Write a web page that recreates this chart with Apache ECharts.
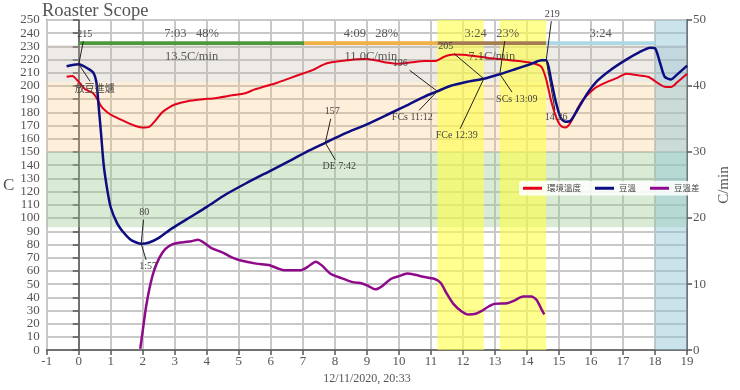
<!DOCTYPE html>
<html><head><meta charset="utf-8">
<script src="https://cdn.jsdelivr.net/npm/echarts@6/dist/echarts.min.js"></script>
<style>html,body{margin:0;padding:0;background:#fff}#c{width:740px;height:390px}</style>
</head><body><div id="c"></div>
<script>
// ---------- DATA ----------
const seriesNames = ['環境溫度', '豆溫', '豆溫差'];
const etData = [[-0.38,207],[-0.2,207.5],[0,203],[0.2,197.5],[0.45,194.5],[0.6,189],[0.72,184],[0.9,180],[1.1,177],[1.5,172.5],[1.8,169.5],[2.0,168.5],[2.2,169],[2.4,174],[2.6,180],[2.8,183.5],[3.0,186],[3.4,188.5],[3.8,189.8],[4.3,191],[4.8,193],[5.2,194.5],[5.5,197.5],[5.8,199.6],[6.2,202.5],[6.6,206],[7.0,209.5],[7.3,212],[7.5,214.5],[7.7,216.8],[8.0,218.3],[8.4,219.5],[8.9,220.4],[9.3,219.4],[9.6,217.8],[10.0,216.8],[10.4,218],[10.8,219],[11.15,219],[11.4,222],[11.7,223.8],[12.0,223.7],[12.4,222.5],[12.8,221.3],[13.2,220.2],[13.6,219.2],[13.9,218.4],[14.2,217.3],[14.45,214.5],[14.6,205],[14.75,189],[14.9,177],[15.05,170],[15.2,168.6],[15.35,172],[15.6,184],[15.8,191],[16.1,198],[16.4,202],[16.8,206],[17.1,209.3],[17.5,208],[17.8,206.8],[18.1,202],[18.3,199.4],[18.5,199.2],[18.7,203],[19,209.3]];
const btData = [[-0.38,215],[-0.2,216],[0,216.5],[0.3,213],[0.46,210],[0.55,203],[0.62,185],[0.7,163],[0.78,140],[0.9,120],[1.0,108],[1.2,96],[1.4,89],[1.6,84],[1.8,81.5],[1.95,80.5],[2.2,81.5],[2.5,85],[2.9,92],[3.5,101],[4,108.5],[4.6,118],[5.2,126],[6,136],[6.6,143.5],[7.1,150],[7.7,157],[8.3,164],[9,171],[9.7,179],[10.3,186],[10.8,192],[11.2,196],[11.6,200],[12.1,203],[12.65,205.5],[13.15,209],[13.6,212.5],[14.1,216.5],[14.45,219.5],[14.6,219.5],[14.75,205],[14.9,188],[15.05,176],[15.2,173],[15.35,173.5],[15.6,183],[15.9,195],[16.2,204],[16.6,212],[17.1,220],[17.5,225.5],[17.85,229],[18.0,228.5],[18.15,218],[18.3,207],[18.5,205],[18.7,209],[19,215.5]];
const rorData = [[1.92,0.2],[2.0,3],[2.1,6.5],[2.22,9.6],[2.35,12],[2.52,14],[2.7,15.3],[2.92,16],[3.2,16.3],[3.52,16.5],[3.73,16.7],[3.9,16.3],[4.13,15.5],[4.53,14.7],[4.8,14],[5.03,13.6],[5.54,13.1],[5.94,12.9],[6.2,12.4],[6.4,12.1],[6.94,12.1],[7.15,12.6],[7.4,13.4],[7.6,12.8],[7.85,11.6],[8.2,10.9],[8.55,10.3],[8.85,10.1],[9.05,9.7],[9.26,9.2],[9.45,9.6],[9.76,10.8],[10.0,11.2],[10.26,11.6],[10.5,11.4],[10.76,11.1],[11.1,10.8],[11.3,10.2],[11.5,8.5],[11.7,7.0],[11.95,5.9],[12.17,5.4],[12.4,5.5],[12.57,5.9],[12.8,6.6],[12.98,7.0],[13.38,7.1],[13.6,7.5],[13.88,8.1],[14.13,8.1],[14.3,7.6],[14.45,6.2],[14.54,5.4]];

const eventTimes  = [0, 1.95, 7.7, 11.2, 12.65, 13.15, 14.6];
const eventTemps  = [216.5, 80.5, 157, 196, 205.5, 209, 219.5];
const eventValueLabels = ['215', '80', '157', '196', '205', '', '219'];
const eventNameLabels  = ['放豆進爐', '1:57', 'DE 7:42', 'FCs 11:12', 'FCe 12:39', 'SCs 13:09', '14:36'];

const phaseStarts = [0, 7.05, 11.2, 14.6];
const phaseEnds   = [7.05, 11.2, 14.6, 18];
const phaseTimeLabels = ['7:03   48%', '4:09   28%', '3:24   23%', '3:24'];
const phaseRateLabels = ['13.5C/min', '11.0C/min', '7.1C/min', ''];

const tempBands = [[93, 150], [150, 203], [203, 231]];
const crackWindows = [[11.2, 12.65], [13.15, 14.6]];
const coolWindow = [18, 19];

const xRange = [-1, 19];
const yRange = [0, 250];
const y2Range = [0, 50];
const dateLabel = '12/11/2020, 20:33';

// ---------- STYLE / LAYOUT ----------
const serif = "'Liberation Serif', 'DejaVu Serif', serif";
const cjk = "'Noto Sans CJK TC', 'Noto Sans CJK SC', sans-serif";
const bandColors = ['rgba(150,200,135,0.36)', 'rgba(250,195,120,0.27)', 'rgba(195,178,160,0.28)'];
const phaseColors = ['#4c9a3c', '#f0b043', '#a67c52', '#add8e6'];
const gridColor = '#c8c8c8';
// label offsets in pixels from the marked point: [upperDx, upperDy, lowerDx, lowerDy]
const eventOffsets = [[6,-30,16,24],[3,-31,7,23],[7,-31,14,24],[-37,-28,-25,26],[-38,-32,-27,57],[6,-40,17,25],[6,-46,10,57]];

const chart = echarts.init(document.getElementById('c'));

const lineCommon = {showSymbol: false, symbol: 'none', smooth: 0.25};

const option = {
  animation: false,
  backgroundColor: '#fff',
  title: {text: 'Roaster Scope', left: 37, top: -3, textStyle: {fontFamily: serif, fontSize: 18.5, fontWeight: 'normal', color: '#555'}},
  legend: {
    data: seriesNames, left: 519, top: 181, icon: 'rect', itemWidth: 19, itemHeight: 3, itemGap: 14,
    backgroundColor: 'rgba(255,255,255,0.85)', borderRadius: 3, padding: [3, 4],
    textStyle: {fontFamily: cjk, fontSize: 8.5, color: '#444'}
  },
  grid: {left: 40, right: 37, top: 20, bottom: 32, show: true, borderColor: '#555', borderWidth: 1.5, backgroundColor: 'transparent'},
  xAxis: {
    type: 'value', min: xRange[0], max: xRange[1], interval: 1,
    name: dateLabel, nameLocation: 'middle', nameGap: 21,
    nameTextStyle: {fontFamily: serif, fontSize: 12, color: '#555'},
    axisLine: {lineStyle: {color: '#555', width: 1.5}},
    axisTick: {show: true, length: 5, lineStyle: {color: '#555', width: 1.5}},
    axisLabel: {fontFamily: serif, fontSize: 13, color: '#555', margin: 5},
    splitLine: {show: true, lineStyle: {color: gridColor, width: 2}}
  },
  yAxis: [{
    type: 'value', min: yRange[0], max: yRange[1], interval: 10,
    name: 'C', nameLocation: 'middle', nameGap: 30, nameRotate: 0,
    nameTextStyle: {fontFamily: serif, fontSize: 17, color: '#555'},
    axisLine: {show: true, lineStyle: {color: '#555', width: 1.5}},
    axisTick: {show: true, length: 6, lineStyle: {color: '#555', width: 1.5}},
    axisLabel: {fontFamily: serif, fontSize: 13, color: '#555', margin: 7},
    splitLine: {show: true, lineStyle: {color: gridColor, width: 2}}
  }, {
    type: 'value', min: y2Range[0], max: y2Range[1], interval: 10, position: 'right',
    name: 'C/min', nameLocation: 'middle', nameGap: 27, nameRotate: 90,
    nameTextStyle: {fontFamily: serif, fontSize: 15, color: '#555'},
    axisLine: {show: true, lineStyle: {color: '#555', width: 1.5}},
    axisTick: {show: true, length: 5, lineStyle: {color: '#555', width: 1.5}},
    axisLabel: {fontFamily: serif, fontSize: 13, color: '#555', margin: 6},
    splitLine: {show: false}
  }],
  series: [
    {type: 'line', name: 'tempBands', data: [], z: 1, silent: true,
      markArea: {silent: true, data: tempBands.map((b, i) => [
        {xAxis: xRange[0], yAxis: b[0], itemStyle: {color: bandColors[i]}}, {xAxis: xRange[1], yAxis: b[1]}])}},
    {type: 'line', name: 'windows', data: [], z: 2, silent: true,
      markArea: {silent: true, data: crackWindows.map(w => [
        {xAxis: w[0], yAxis: yRange[0], itemStyle: {color: 'rgba(255,255,70,0.6)'}}, {xAxis: w[1], yAxis: yRange[1]}])
        .concat([[{xAxis: coolWindow[0], yAxis: yRange[0], itemStyle: {color: 'rgba(140,195,212,0.45)'}}, {xAxis: coolWindow[1], yAxis: yRange[1]}]])}},
    {type: 'line', name: 'phaseBars', data: [], z: 3, silent: true,
      markArea: {silent: true, data: phaseStarts.map((s, i) => [
        {xAxis: s, yAxis: 231, itemStyle: {color: phaseColors[i]}}, {xAxis: phaseEnds[i], yAxis: 234}])}},
    Object.assign({type: 'line', name: seriesNames[0], data: etData, z: 4,
      itemStyle: {color: '#e3001b'}, lineStyle: {color: '#e3001b', width: 2}}, lineCommon),
    Object.assign({type: 'line', name: seriesNames[1], data: btData, z: 5,
      itemStyle: {color: '#0d0d82'}, lineStyle: {color: '#0d0d82', width: 2.5}}, lineCommon),
    Object.assign({type: 'line', name: seriesNames[2], data: rorData, yAxisIndex: 1, z: 6,
      itemStyle: {color: '#8e0a8a'}, lineStyle: {color: '#8e0a8a', width: 2.5}}, lineCommon),
    {type: 'scatter', name: 'phaseLabels', z: 7, silent: true, symbolSize: 0,
      data: phaseStarts.map((s, i) => [(s + phaseEnds[i]) / 2, 239.6, phaseTimeLabels[i]])
        .concat(phaseStarts.map((s, i) => [(s + phaseEnds[i]) / 2, 222, phaseRateLabels[i]])),
      label: {show: true, position: 'inside', formatter: p => p.data[2], fontFamily: serif, fontSize: 12.5, color: '#333'}}
  ]
};
chart.setOption(option);

// annotations via the chart's own scales
const g = [];
eventTimes.forEach((t, i) => {
  const p = chart.convertToPixel({xAxisIndex: 0, yAxisIndex: 0}, [t, eventTemps[i]]);
  const o = eventOffsets[i];
  const up = [p[0] + o[0], p[1] + o[1]];
  const lo = [p[0] + o[2], p[1] + o[3]];
  const tu = 7 / Math.abs(o[1]);
  const tl = 7 / Math.abs(o[3]);
  g.push({type: 'line', z: 20, silent: true, shape: {x1: p[0], y1: p[1], x2: up[0] - o[0] * tu, y2: up[1] - o[1] * tu}, style: {stroke: '#222', lineWidth: 1}});
  g.push({type: 'line', z: 20, silent: true, shape: {x1: p[0], y1: p[1], x2: lo[0] - o[2] * tl, y2: lo[1] - o[3] * tl}, style: {stroke: '#222', lineWidth: 1}});
  if (eventValueLabels[i]) g.push({type: 'text', z: 21, silent: true, x: up[0], y: up[1],
    style: {text: eventValueLabels[i], fill: '#444', font: "10px " + serif, align: 'center', verticalAlign: 'middle'}});
  const isCjk = /[\u4e00-\u9fff]/.test(eventNameLabels[i]);
  g.push({type: 'text', z: 21, silent: true, x: lo[0], y: lo[1],
    style: {text: eventNameLabels[i], fill: '#444', font: "10px " + (isCjk ? cjk : serif), align: 'center', verticalAlign: 'middle'}});
});
chart.setOption({graphic: g});
</script>
</body></html>
